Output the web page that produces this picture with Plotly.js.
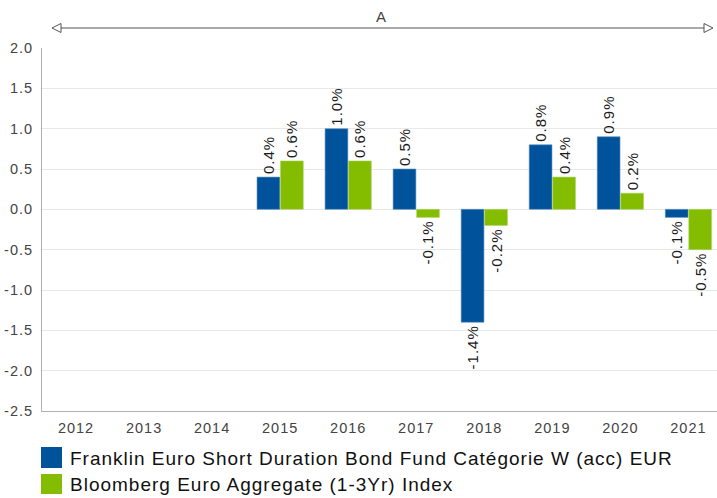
<!DOCTYPE html>
<html>
<head>
<meta charset="utf-8">
<script src="https://cdn.plot.ly/plotly-3.0.1.min.js"></script>
<style>
html,body{margin:0;padding:0;background:#fff;}
#chart{width:717px;height:498px;}
svg text{letter-spacing:1px;}
</style>
</head>
<body>
<div id="chart"></div>
<script>
const years = ["2012","2013","2014","2015","2016","2017","2018","2019","2020","2021"];
const fundName = "Franklin Euro Short Duration Bond Fund Catégorie W (acc) EUR";
const indexName = "Bloomberg Euro Aggregate (1-3Yr) Index";
const fundValues = [null, null, null, 0.4, 1.0, 0.5, -1.4, 0.8, 0.9, -0.1];
const indexValues = [null, null, null, 0.6, 0.6, -0.1, -0.2, 0.4, 0.2, -0.5];
const yTicks = [-2.5, -2.0, -1.5, -1.0, -0.5, 0.0, 0.5, 1.0, 1.5, 2.0];
const periodLabel = "A";

const blue = "#00539b";
const green = "#84bd00";
const FONT = "Liberation Sans, Arial, sans-serif";

function lbl(v){ return v === null ? "" : v.toFixed(1) + "%"; }

const common = {
  type: "bar",
  textposition: "outside",
  textangle: -90,
  cliponaxis: false,
  constraintext: "none",
  outsidetextfont: {family: FONT, size: 15, color: "#1a1a1a"},
  hoverinfo: "skip",
  showlegend: false
};

const traces = [
  Object.assign({}, common, {
    x: years, y: fundValues, name: fundName,
    text: fundValues.map(lbl),
    marker: {color: blue, line: {color: "#5b8fc4", width: 0.6}}
  }),
  Object.assign({}, common, {
    x: years, y: indexValues, name: indexName,
    text: indexValues.map(lbl),
    marker: {color: green, line: {color: "#a9d45a", width: 0.6}}
  })
];

// plot area geometry (pixels)
const L = 42, T = 48, B = 87, W = 717, H = 498;
const pw = W - L, ph = H - T - B;
function px2x(p){ return (p - L) / pw; }
function py2y(p){ return (H - B - p) / ph; }
function pt(x, y){ return px2x(x).toFixed(5) + "," + py2y(y).toFixed(5); }

const arrowY = 28;
const layout = {
  width: W, height: H,
  margin: {l: L, r: 0, t: T, b: B, pad: 0},
  paper_bgcolor: "#fff",
  plot_bgcolor: "#fff",
  barmode: "group",
  bargap: 0.31,
  bargroupgap: 0.03,
  font: {family: FONT, size: 14, color: "#444"},
  xaxis: {
    type: "category",
    range: [-0.5, 9.42],
    showgrid: false,
    zeroline: false,
    showline: true,
    linecolor: "#b0b0b0",
    linewidth: 1,
    ticks: "",
    ticklabelstandoff: 4,
    tickfont: {family: FONT, size: 14.5, color: "#444"},
    fixedrange: true
  },
  yaxis: {
    range: [-2.5, 2.0],
    tickvals: yTicks,
    ticktext: yTicks.map(v => v.toFixed(1)),
    showgrid: true,
    gridcolor: "#e8e8e8",
    gridwidth: 1,
    zeroline: true,
    zerolinecolor: "#e8e8e8",
    zerolinewidth: 1,
    showline: true,
    linecolor: "#b0b0b0",
    linewidth: 1,
    ticks: "",
    ticklen: 0,
    ticklabelstandoff: 5,
    tickfont: {family: FONT, size: 14.5, color: "#444"},
    automargin: false,
    fixedrange: true
  },
  shapes: [
    // period line
    {type: "line", xref: "paper", yref: "paper",
     x0: px2x(60), x1: px2x(705), y0: py2y(arrowY), y1: py2y(arrowY),
     line: {color: "#555", width: 1}},
    // open arrowheads
    {type: "path", xref: "paper", yref: "paper",
     path: "M" + pt(52, arrowY) + " L" + pt(61, arrowY - 4.5) + " L" + pt(61, arrowY + 4.5) + " Z",
     fillcolor: "#fff", line: {color: "#555", width: 1}},
    {type: "path", xref: "paper", yref: "paper",
     path: "M" + pt(713, arrowY) + " L" + pt(704, arrowY - 4.5) + " L" + pt(704, arrowY + 4.5) + " Z",
     fillcolor: "#fff", line: {color: "#555", width: 1}},
    // legend squares
    {type: "rect", xref: "paper", yref: "paper",
     x0: px2x(41), x1: px2x(62), y0: py2y(468), y1: py2y(447),
     fillcolor: blue, line: {width: 0}},
    {type: "rect", xref: "paper", yref: "paper",
     x0: px2x(41), x1: px2x(62), y0: py2y(494), y1: py2y(474),
     fillcolor: green, line: {width: 0}}
  ],
  annotations: [
    {xref: "paper", yref: "paper", x: px2x(381), y: py2y(17),
     text: periodLabel, showarrow: false, xanchor: "center", yanchor: "middle",
     font: {family: FONT, size: 15, color: "#444"}},
    // legend texts
    {xref: "paper", yref: "paper", x: px2x(68), y: py2y(458),
     text: fundName, showarrow: false, xanchor: "left", yanchor: "middle",
     font: {family: FONT, size: 19, color: "#111"}},
    {xref: "paper", yref: "paper", x: px2x(68), y: py2y(484),
     text: indexName, showarrow: false, xanchor: "left", yanchor: "middle",
     font: {family: FONT, size: 19, color: "#111"}}
  ]
};

Plotly.newPlot("chart", traces, layout, {displayModeBar: false, staticPlot: true});
</script>
</body>
</html>
